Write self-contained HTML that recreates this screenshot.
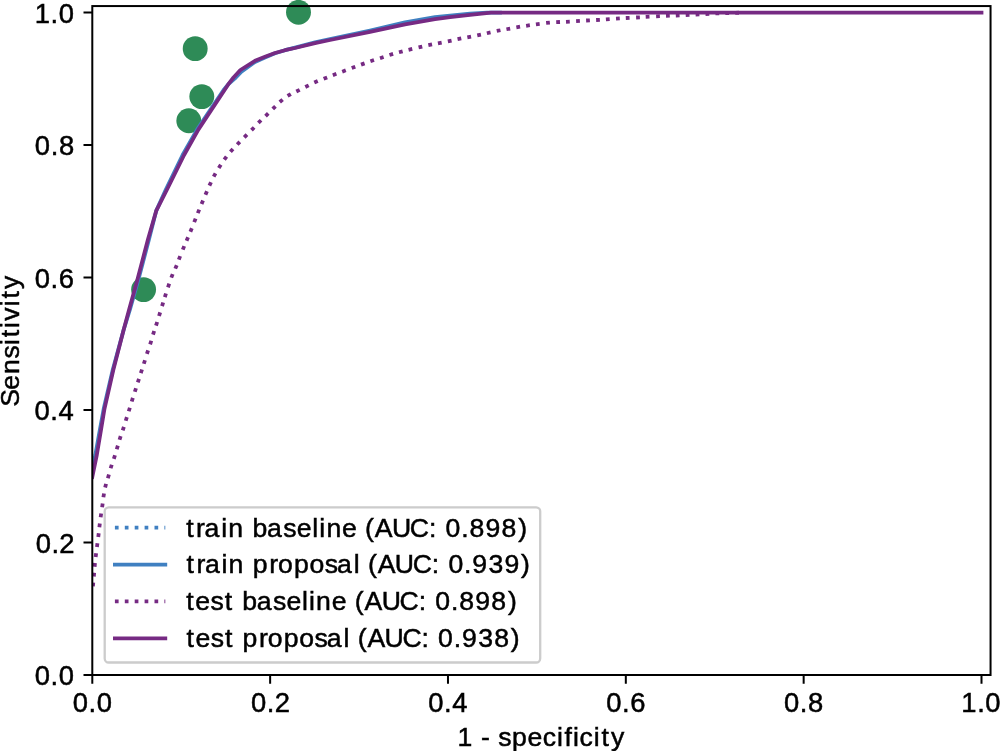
<!DOCTYPE html>
<html><head><meta charset="utf-8"><style>
html,body{margin:0;padding:0;background:#fff;width:1000px;height:751px;overflow:hidden;}
svg{display:block;will-change:transform;}
text{font-family:"Liberation Sans",sans-serif;}
</style></head><body>
<svg width="1000" height="751" viewBox="0 0 1000 751">
<rect width="1000" height="751" fill="#fff"/>
<defs><clipPath id="ax"><rect x="92.3" y="6.06" width="898.25" height="668.94"/></clipPath></defs>
<circle cx="143.6" cy="289.6" r="12.45" fill="#2e8b57"/>
<circle cx="188.8" cy="120.8" r="12.45" fill="#2e8b57"/>
<circle cx="195.2" cy="48.65" r="12.45" fill="#2e8b57"/>
<circle cx="201.8" cy="96.6" r="12.45" fill="#2e8b57"/>
<circle cx="298.5" cy="12.3" r="12.45" fill="#2e8b57"/>
<g clip-path="url(#ax)" fill="none" stroke-width="3.78" stroke-linejoin="round">
<path d="M90.8 477 L95.3 455 L99.8 430 L103.7 408.8 L112.7 370 L123.6 330 L129.8 310 L138.3 280 L149 239.3 L156.3 210.6 L166.1 189 L182.6 155 L197.2 129.4 L223.6 90 L228.2 84.4 L234.7 78.7 L241.4 71.8 L255 62 L265 57.6 L275 53.3 L285 50.2 L295 47.6 L315 42.3 L330 39 L370 30.5 L405 22.4 L435 17.1 L450 15.55 L470 13.6 L487 12.7 L500 12.7" stroke="#4080c1" stroke-linecap="square"/>
<path d="M92.93 586.38L93.27 582.62M93.84 576.48L94.16 572.72M94.62 566.78L94.98 563.02M95.67 556.98L96.13 553.22M96.96 547.07L97.44 543.33M98.27 536.98L98.73 533.22M99.37 527.18L99.83 523.42M100.64 517.27L101.16 513.53M102.14 507.17L102.66 503.43M103.4 497.27L104 493.53M105.15 487.53L106.05 483.87M107.87 478.21L108.93 474.59M110.64 468.3L111.76 464.7M113.83 458.9L114.97 455.3M116.76 449.21L117.84 445.59M119.53 439.7L120.67 436.1M122.71 430.4L123.89 426.8M125.73 420.7L126.87 417.1M128.74 411.3L129.86 407.7M131.74 401.5L132.86 397.9M134.83 391.8L135.97 388.2M137.82 382.4L138.98 378.8M140.82 373.1L141.98 369.5M143.83 363.8L144.97 360.2M146.92 353.9L148.08 350.3M150.13 344.4L151.27 340.8M153.03 334.6L154.17 331M156.02 325.6L157.18 322M159.04 316.01L160.16 312.39M162.05 306.11L163.15 302.49M164.83 297.1L165.97 293.5M167.99 287.29L169.21 283.71M171.3 277.66L172.7 274.14M175.27 268.64L176.73 265.16M178.81 259.66L180.19 256.14M182.78 249.65L184.22 246.15M186.56 240.64L188.04 237.16M190.38 231.75L191.82 228.25M194.2 222.16L195.6 218.64M197.78 213.15L199.22 209.65M201.57 204.04L203.03 200.56M205.45 194.74L206.95 191.26M209.4 185.61L211 182.19M213.69 176.66L215.51 173.34M218.78 167.99L220.82 164.81M224.27 159.62L226.53 156.58M230.45 151.82L232.95 148.98M237.19 144.56L239.81 141.84M244.27 137.34L246.93 134.66M251.48 130.15L254.12 127.45M258.36 122.93L261.04 120.27M265.54 116.12L268.26 113.48M272.75 108.92L275.45 106.28M279.75 102.01L282.65 99.59M287.58 95.97L290.82 94.03M296.31 91.54L299.69 89.86M305.31 87.04L308.69 85.36M314.27 82.56L317.73 81.04M323.64 78.79L327.16 77.41M332.83 75.17L336.37 73.83M342.23 71.66L345.77 70.34M351.73 68.06L355.27 66.74M361.02 64.65L364.58 63.35M370.41 61.2L373.99 60M380 58.18L383.6 57.02M389.49 54.95L393.11 53.85M398.97 52.28L402.63 51.32M408.56 49.85L412.24 48.95M418.56 47.43L422.24 46.57M428.35 45.18L432.05 44.42M437.94 43.36L441.66 42.64M447.85 41.4L451.55 40.6M457.55 39.18L461.25 38.42M467.34 37.36L471.06 36.64M477.25 35.4L480.95 34.6M486.86 33.22L490.54 32.38M496.75 30.97L500.45 30.23M506.44 29.24L510.16 28.56M516.34 27.32L520.06 26.68M526.13 25.78L529.87 25.22M535.93 24.35L539.67 23.85M546.12 22.99L549.88 22.61M556.21 22.2L559.99 22M566.01 21.8L569.79 21.6M576.11 21.12L579.89 20.88M586.11 20.5L589.89 20.3M596.11 20.01L599.89 19.79M605.91 19.33L609.69 19.07M616.01 18.62L619.79 18.38M625.81 18L629.59 17.8M636.11 17.5L639.89 17.3M645.71 16.9L649.49 16.7M656.11 16.39L659.89 16.21M666.01 15.89L669.79 15.71M675.81 15.49L679.59 15.31M685.71 15L689.49 14.8M695.61 14.5L699.39 14.3M705.51 14L709.29 13.8M715.41 13.48L719.19 13.32M725.31 13.16L729.09 13.04M735.21 12.86L738.99 12.74" stroke="#762a83" stroke-linecap="butt"/>
<path d="M92.3 477 L96.8 455 L101 430 L104.5 408.8 L113.3 370 L123.6 330 L129 310 L137.3 280 L148 239.3 L156.3 210.6 L167.3 189 L184.1 155 L198.5 129.4 L224.6 90 L228.2 84.4 L233.5 77.5 L240.4 70 L255 60.8 L265 56.8 L275 53 L285 50.2 L295 48 L315 43.1 L330 40 L370 31.8 L405 24.4 L435 19.2 L450 17.05 L470 14.9 L491 12.7 L981.5 12.7" stroke="#762a83" stroke-linecap="square"/>
</g>
<rect x="92.3" y="6.06" width="898.25" height="668.94" fill="none" stroke="#000" stroke-width="2"/>
<path d="M92.3 675V683.8M92.3 675H83.5M270.14 675V683.8M92.3 542.49H83.5M447.98 675V683.8M92.3 409.98H83.5M625.82 675V683.8M92.3 277.46H83.5M803.66 675V683.8M92.3 144.95H83.5M981.5 675V683.8M92.3 12.44H83.5" stroke="#000" stroke-width="2"/>
<g font-family="Liberation Sans, sans-serif" font-size="26.6" fill="#000" stroke="#000" stroke-width="0.5">
<text x="72.66 88.49 96.7" y="711.85" font-size="27.4">0.0</text>
<text x="34.79 50.62 58.83" y="684.8" font-size="27.4">0.0</text>
<text x="250.92 266.75 274.63" y="711.85" font-size="27.4">0.2</text>
<text x="35.64 51.47 59.35" y="552.79" font-size="27.4">0.2</text>
<text x="428.21 444.04 452.25" y="711.85" font-size="27.4">0.4</text>
<text x="34.53 50.36 58.57" y="419.78" font-size="27.4">0.4</text>
<text x="606.14 621.96 630.18" y="711.85" font-size="27.4">0.6</text>
<text x="34.7 50.53 58.74" y="288.16" font-size="27.4">0.6</text>
<text x="784.04 799.87 808.09" y="711.85" font-size="27.4">0.8</text>
<text x="34.84 50.67 58.88" y="154.75" font-size="27.4">0.8</text>
<text x="961.16 977.13 985.35" y="711.85" font-size="27.4">1.0</text>
<text x="34.64 50.62 58.83" y="23.14" font-size="27.4">1.0</text>
<text x="457.39 473.26 481.07 490.36 498.15 511.95 527.59 542.67 557.1 564.61 572.98 579.4 593.83 601.45 610.96" y="745.6">1 - specificity</text>
<text transform="translate(19.2 340.05) rotate(-90)" x="-66.79 -49.65 -33.91 -18.49 -4.89 2.73 11.99 19.24 33.9 41.53 51.03" y="0">Sensitivity</text>
</g>
<rect x="104.7" y="507.3" width="435.5" height="155.2" rx="4" fill="#fff" fill-opacity="0.8" stroke="#ccc" stroke-width="2.3"/>
<g font-family="Liberation Sans, sans-serif" font-size="26.6" fill="#000" stroke="#000" stroke-width="0.5">
<path d="M114.9 527.7H165.3" stroke="#4080c1" stroke-width="3.78" stroke-dasharray="3.7 6.2"/>
<text x="186.18 196.11 204.61 221.24 228.33 243.97 252.42 267.03 283.2 296.64 312.28 319.3 326.38 342.12 357.53 365.04 374.8 391.91 409.79 428.89 437.14 445.45 461.17 469.49 485.45 501.56 518.14" y="536.6">train baseline (AUC: 0.898)</text>
<path d="M114.9 564.57H165.3" stroke="#4080c1" stroke-width="3.78" stroke-linecap="square"/>
<text x="186.46 196.39 204.89 221.52 228.61 244.24 252.7 269.17 278.06 293.92 309.48 324.67 337.08 353.7 360.46 367.98 377.74 394.85 412.73 431.83 440.07 448.39 464.1 472.35 488.5 504.42 521.07" y="573.47">train proposal (AUC: 0.939)</text>
<path d="M114.9 601.44H165.3" stroke="#762a83" stroke-width="3.78" stroke-dasharray="3.7 6.2"/>
<text x="186.18 195.29 210.48 224.69 233.7 242.16 256.77 272.94 286.38 302.02 309.04 316.12 331.86 347.26 354.78 364.54 381.65 399.53 418.63 426.88 435.19 450.91 459.23 475.19 491.3 507.88" y="610.34">test baseline (AUC: 0.898)</text>
<path d="M114.9 638.31H165.3" stroke="#762a83" stroke-width="3.78" stroke-linecap="square"/>
<text x="186.46 195.56 210.75 224.97 233.98 242.44 258.91 267.8 283.66 299.22 314.41 326.82 343.43 350.2 357.71 367.47 384.59 402.46 421.57 429.81 438.12 453.84 462.09 478.24 494.23 510.81" y="647.21">test proposal (AUC: 0.938)</text>
</g>
</svg>
</body></html>
